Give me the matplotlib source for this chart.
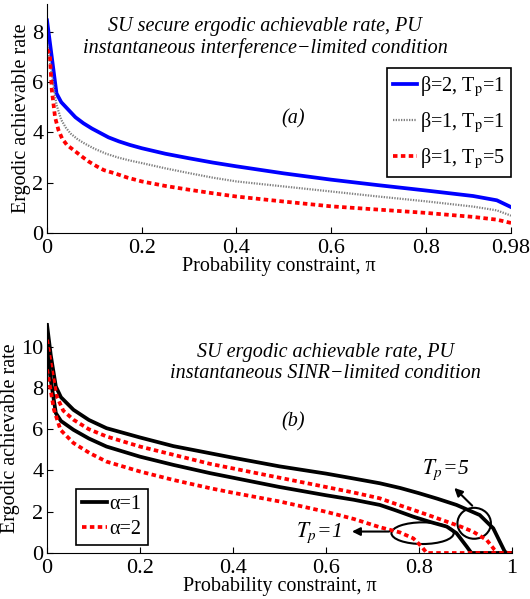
import matplotlib
matplotlib.use("Agg")
import matplotlib.pyplot as plt
from matplotlib.patches import Ellipse
from matplotlib.ticker import FormatStrFormatter

plt.rcParams['font.family'] = ['Liberation Serif', 'DejaVu Serif']
plt.rcParams['mathtext.fontset'] = 'stix'
plt.rcParams['xtick.direction'] = 'in'
plt.rcParams['ytick.direction'] = 'in'

# (a) secure ergodic rate, interference-limited
pi_a = [0.0, 0.02, 0.03, 0.045, 0.06, 0.077, 0.095, 0.113, 0.13, 0.152, 0.175, 0.2, 0.25, 0.3, 0.35,
        0.4, 0.5, 0.6, 0.7, 0.8, 0.9, 0.95, 0.98]
beta2_tp1 = [8.45, 5.55, 5.2, 4.9, 4.6, 4.36, 4.15, 3.97, 3.8, 3.64, 3.5, 3.37, 3.15, 2.97, 2.8,
             2.65, 2.37, 2.12, 1.9, 1.69, 1.47, 1.3, 1.03]

pi_g = [0.0, 0.01, 0.02, 0.03, 0.04, 0.05, 0.065, 0.08, 0.1, 0.125, 0.15, 0.175, 0.2, 0.25, 0.3,
        0.35, 0.4, 0.5, 0.6, 0.7, 0.8, 0.9, 0.95, 0.98]
beta1_tp1 = [7.6, 6.3, 5.1, 4.5, 4.18, 3.95, 3.72, 3.55, 3.35, 3.15, 3.0, 2.88, 2.78, 2.57, 2.38,
             2.2, 2.05, 1.85, 1.65, 1.45, 1.26, 1.05, 0.9, 0.69]

pi_r = [0.0, 0.006, 0.01, 0.017, 0.024, 0.032, 0.042, 0.06, 0.075, 0.088, 0.105, 0.12, 0.145,
        0.17, 0.2, 0.25, 0.3, 0.35, 0.4, 0.5, 0.6, 0.7, 0.8, 0.9, 0.95, 0.98]
beta1_tp5 = [7.3, 7.1, 5.7, 4.6, 4.1, 3.75, 3.5, 3.24, 3.02, 2.84, 2.65, 2.5, 2.36,
             2.2, 2.05, 1.87, 1.72, 1.58, 1.45, 1.25, 1.06, 0.93, 0.8, 0.64, 0.53, 0.4]

# (b) ergodic rate, SINR-limited
pi_b1 = [0.0, 0.008, 0.019, 0.03, 0.057, 0.09, 0.128, 0.2, 0.272, 0.343, 0.4, 0.5, 0.6, 0.65,
         0.716, 0.76, 0.8, 0.84, 0.881, 0.931, 0.96, 0.985, 0.99, 1.0]
a1_tp5 = [11.07, 9.6, 8.07, 7.55, 6.94, 6.45, 6.05, 5.6, 5.18, 4.87, 4.62, 4.2, 3.85, 3.65,
          3.38, 3.15, 2.9, 2.63, 2.33, 1.84, 1.2, 0.06, 0.0, 0.0]

pi_b2 = [0.0, 0.01, 0.021, 0.035, 0.057, 0.09, 0.128, 0.2, 0.272, 0.351, 0.4, 0.5, 0.6, 0.66,
         0.716, 0.75, 0.788, 0.825, 0.86, 0.89, 0.917, 0.946, 0.963, 0.97, 1.0]
a2_tp5 = [10.34, 8.9, 7.59, 6.9, 6.46, 6.0, 5.65, 5.16, 4.76, 4.32, 4.1, 3.65, 3.2, 2.93,
          2.65, 2.38, 2.09, 1.8, 1.52, 1.28, 1.03, 0.63, 0.15, 0.0, 0.0]

pi_b3 = [0.0, 0.008, 0.019, 0.03, 0.057, 0.09, 0.128, 0.2, 0.272, 0.351, 0.4, 0.5, 0.6, 0.66,
         0.716, 0.75, 0.788, 0.825, 0.86, 0.881, 0.903, 0.913, 1.0]
a1_tp1 = [9.85, 8.4, 6.78, 6.4, 5.97, 5.55, 5.16, 4.67, 4.27, 3.87, 3.65, 3.2, 2.8, 2.58,
          2.33, 2.07, 1.76, 1.5, 1.28, 0.96, 0.31, 0.0, 0.0]

pi_b4 = [0.0, 0.007, 0.015, 0.029, 0.057, 0.092, 0.128, 0.2, 0.272, 0.351, 0.4, 0.5, 0.6, 0.66,
         0.716, 0.759, 0.788, 0.806, 0.817, 1.0]
a2_tp1 = [8.9, 8.0, 6.94, 5.97, 5.33, 4.84, 4.43, 3.95, 3.54, 3.14, 2.92, 2.5, 2.0, 1.65,
          1.25, 1.0, 0.71, 0.31, 0.0, 0.0]

xt_a = [0, 0.2, 0.4, 0.6, 0.8, 0.98]
xt_b = [0, 0.2, 0.4, 0.6, 0.8, 1]

red_dash = (1.2, 0.9)

fig = plt.figure(figsize=(5.3, 5.99), dpi=100)

# ---- top panel
ax1 = fig.add_axes([0.0887, 0.611, 0.8755, 0.3823])
ax1.plot(pi_a, beta2_tp1, color='blue', lw=2.7, label='β=2, T$_{\\rm p}$=1')
ax1.plot(pi_g, beta1_tp1, color='0.5', lw=1.6, ls=(0, (0.6, 0.6)), label='β=1, T$_{\\rm p}$=1')
ax1.plot(pi_r, beta1_tp5, color='red', lw=2.7, ls=(0, red_dash), label='β=1, T$_{\\rm p}$=5')
ax1.set_xlim(0, 0.98)
ax1.set_ylim(0, 9.1)
ax1.set_xticks(xt_a)
ax1.set_yticks([0, 2, 4, 6, 8])
ax1.xaxis.set_major_formatter(FormatStrFormatter('%g'))
ax1.set_xlabel('Probability constraint, π', fontsize=14.5, labelpad=-1)
ax1.set_ylabel('Ergodic achievable rate', fontsize=14.5, labelpad=1)
ax1.text(0.47, 0.945, 'SU secure ergodic achievable rate, PU\ninstantaneous interference−limited condition',
         transform=ax1.transAxes, ha='center', va='top', style='italic', fontsize=14.5, linespacing=1.2)
ax1.text(0.53, 0.5, '(a)', transform=ax1.transAxes, ha='center', va='center', style='italic', fontsize=14.5)
leg = ax1.legend(loc='upper right', bbox_to_anchor=(1.0, 0.72), fontsize=14.5, handlelength=1.2,
                 handletextpad=0.15, borderpad=0.3, labelspacing=0.55, fancybox=False, framealpha=1,
                 borderaxespad=0)
leg.get_frame().set_edgecolor('black')
leg.get_frame().set_linewidth(1.2)

# ---- bottom panel
ax2 = fig.add_axes([0.0887, 0.0768, 0.877, 0.384])
ax2.plot(pi_b1, a1_tp5, color='black', lw=2.7, label='α=1')
ax2.plot(pi_b2, a2_tp5, color='red', lw=2.7, ls=(0, red_dash), label='α=2')
ax2.plot(pi_b3, a1_tp1, color='black', lw=2.7)
ax2.plot(pi_b4, a2_tp1, color='red', lw=2.7, ls=(0, red_dash))
ax2.set_xlim(0, 1)
ax2.set_ylim(0, 11.15)
ax2.set_xticks(xt_b)
ax2.set_yticks([0, 2, 4, 6, 8, 10])
ax2.xaxis.set_major_formatter(FormatStrFormatter('%g'))
ax2.set_xlabel('Probability constraint, π', fontsize=14.5, labelpad=-1)
ax2.set_ylabel('Ergodic achievable rate', fontsize=14.5, labelpad=1)
ax2.text(0.6, 0.915, 'SU ergodic achievable rate, PU\ninstantaneous SINR−limited condition',
         transform=ax2.transAxes, ha='center', va='top', style='italic', fontsize=14.5, linespacing=1.2)
ax2.text(0.53, 0.57, '(b)', transform=ax2.transAxes, ha='center', va='center', style='italic', fontsize=14.5)
leg2 = ax2.legend(loc='lower left', bbox_to_anchor=(0.063, 0.035), fontsize=14.5, handlelength=1.2,
                  handletextpad=0.15, borderpad=0.3, labelspacing=0.3, fancybox=False, framealpha=1,
                  borderaxespad=0)
leg2.get_frame().set_edgecolor('black')
leg2.get_frame().set_linewidth(1.2)

ax2.add_patch(Ellipse((0.808, 0.96), 0.134, 1.05, fill=False, lw=1.5, color='black'))
ax2.add_patch(Ellipse((0.919, 1.44), 0.072, 1.5, fill=False, lw=1.5, color='black'))
ax2.annotate('', xy=(0.65, 1.04), xytext=(0.742, 1.04),
             arrowprops=dict(arrowstyle='-|>', color='black', lw=1.5, mutation_scale=12))
ax2.annotate('', xy=(0.872, 3.25), xytext=(0.919, 2.2),
             arrowprops=dict(arrowstyle='-|>', color='black', lw=1.5, mutation_scale=12))
ax2.text(0.535, 1.0, r'$\mathit{T_p}$=1', ha='left', va='center', style='italic', fontsize=15.5)
ax2.text(0.807, 4.05, r'$\mathit{T_p}$=5', ha='left', va='center', style='italic', fontsize=15.5)

for ax in (ax1, ax2):
    ax.spines['top'].set_visible(False)
    ax.spines['right'].set_visible(False)
    ax.tick_params(labelsize=16, length=4)
    ax.tick_params(axis='x', pad=4.5)
    ax.tick_params(axis='y', pad=2.5)

fig.savefig('out.png', dpi=100)
